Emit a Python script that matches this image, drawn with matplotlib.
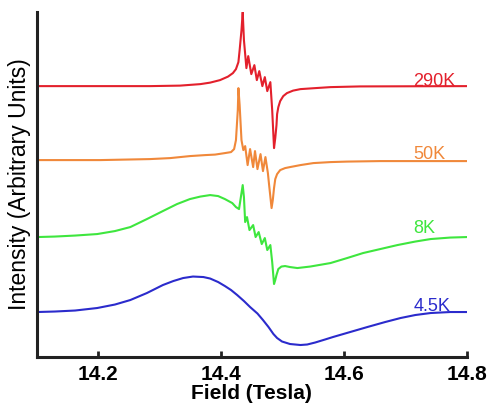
import matplotlib
matplotlib.use("Agg")
import matplotlib.pyplot as plt

plt.rcParams['font.family'] = ['Liberation Sans', 'DejaVu Sans']

# Field values (Tesla) and intensities (arbitrary units)
field_290 = [14.100, 14.203, 14.284, 14.333, 14.366, 14.382, 14.398, 14.411, 14.419, 14.424,
             14.428, 14.430, 14.433, 14.435, 14.437, 14.441, 14.444, 14.449, 14.454, 14.458,
             14.462, 14.467, 14.471, 14.475, 14.480, 14.483, 14.486, 14.488, 14.490, 14.491,
             14.493, 14.496, 14.501, 14.507, 14.517, 14.529, 14.553, 14.578, 14.626, 14.800]
int_290 = [271, 271, 271, 271.5, 273, 274.5, 277, 280.5, 284, 288,
           295, 307, 327, 345, 317, 289, 301, 283, 292, 277,
           286, 271, 280, 266, 275, 247, 209, 219, 232, 243,
           250, 256, 261, 264, 266.5, 268, 269, 270, 270.7, 271]

field_50 = [14.100, 14.203, 14.284, 14.317, 14.349, 14.374, 14.390, 14.406, 14.416, 14.421,
            14.424, 14.427, 14.428, 14.430, 14.433, 14.436, 14.439, 14.443, 14.447, 14.452,
            14.455, 14.459, 14.464, 14.468, 14.472, 14.476, 14.478, 14.482, 14.484, 14.486,
            14.488, 14.491, 14.496, 14.504, 14.512, 14.529, 14.550, 14.578, 14.605, 14.659,
            14.800]
int_50 = [197, 197, 198, 199, 201, 202, 202.5, 204, 205, 208,
          217, 247, 269, 252, 217, 207, 211, 192, 208, 190,
          206, 188, 203, 186, 200, 184, 172, 149, 157, 169,
          178, 183, 187, 189, 190, 192, 194, 195, 195.5, 196,
          196]

field_8 = [14.100, 14.129, 14.162, 14.198, 14.227, 14.252, 14.279, 14.305, 14.328, 14.349,
           14.366, 14.382, 14.395, 14.406, 14.418, 14.424, 14.429, 14.432, 14.435, 14.437,
           14.439, 14.442, 14.446, 14.452, 14.456, 14.461, 14.466, 14.471, 14.475, 14.480,
           14.483, 14.486, 14.488, 14.490, 14.493, 14.498, 14.504, 14.512, 14.524, 14.545,
           14.578, 14.605, 14.631, 14.659, 14.687, 14.716, 14.741, 14.773, 14.800]
int_8 = [120, 120.5, 121.5, 123, 126, 130, 138, 146, 153, 158,
         160.5, 162, 161, 158, 154, 150, 148, 160, 172, 160,
         135, 140, 127, 132, 120, 125, 113, 119, 107, 112,
         95, 73, 77, 82, 88, 90.5, 91, 90, 89, 90.5,
         94, 99, 104, 108, 112, 115.5, 118, 119.5, 120]

field_45 = [14.100, 14.129, 14.162, 14.198, 14.227, 14.252, 14.279, 14.305, 14.322, 14.338,
            14.354, 14.371, 14.382, 14.395, 14.406, 14.416, 14.426, 14.437, 14.447, 14.459,
            14.468, 14.477, 14.485, 14.491, 14.499, 14.512, 14.529, 14.540, 14.553, 14.569,
            14.582, 14.610, 14.638, 14.667, 14.692, 14.716, 14.741, 14.773, 14.800]
int_45 = [45, 45.5, 46.5, 49, 52.5, 57, 64, 72, 76, 79,
          80.5, 80, 78.5, 75, 71, 67, 62, 56, 50, 43.5,
          37, 30, 23, 19, 15.5, 13, 12, 12.5, 14.5, 17.5,
          20, 25, 30, 35, 39, 42, 44, 45, 45]

labels = ['290K', '50K', '8K', '4.5K']
label_y = [271, 198, 124, 46]
colors = ['#e3202c', '#f0883a', '#3ee63e', '#2b2bcc']
xticks = [14.2, 14.4, 14.6, 14.8]
xtick_labels = ['14.2', '14.4', '14.6', '14.8']

fig = plt.figure(figsize=(4.93, 4.05), dpi=100)
ax = fig.add_axes([0.075, 0.1185, 0.872, 0.8515])

series = [(field_290, int_290), (field_50, int_50), (field_8, int_8), (field_45, int_45)]
for (x, y), c in zip(series, colors):
    ax.plot(x, y, color=c, lw=1.5, solid_joinstyle='round')

for lab, yy, c in zip(labels, label_y, colors):
    ax.text(14.713, yy, lab, color=c, fontsize=13, ha='left', va='baseline')

ax.set_xlim(14.1, 14.8)
ax.set_ylim(0, 345)
ax.set_xticks(xticks)
ax.set_xticklabels(xtick_labels, fontsize=15, fontweight='bold')
ax.set_yticks([])
for s in ['top', 'right']:
    ax.spines[s].set_visible(False)
for s in ['left', 'bottom']:
    ax.spines[s].set_linewidth(2.2)
    ax.spines[s].set_color('#222222')
ax.tick_params(axis='x', direction='in', length=4, width=2, color='#222222', pad=6)
ax.set_xlabel('Field (Tesla)', fontsize=15, fontweight='bold', labelpad=0)
ax.set_ylabel('Intensity (Arbitrary Units)', fontsize=16.5, labelpad=4)

fig.savefig('out.png', dpi=100)
